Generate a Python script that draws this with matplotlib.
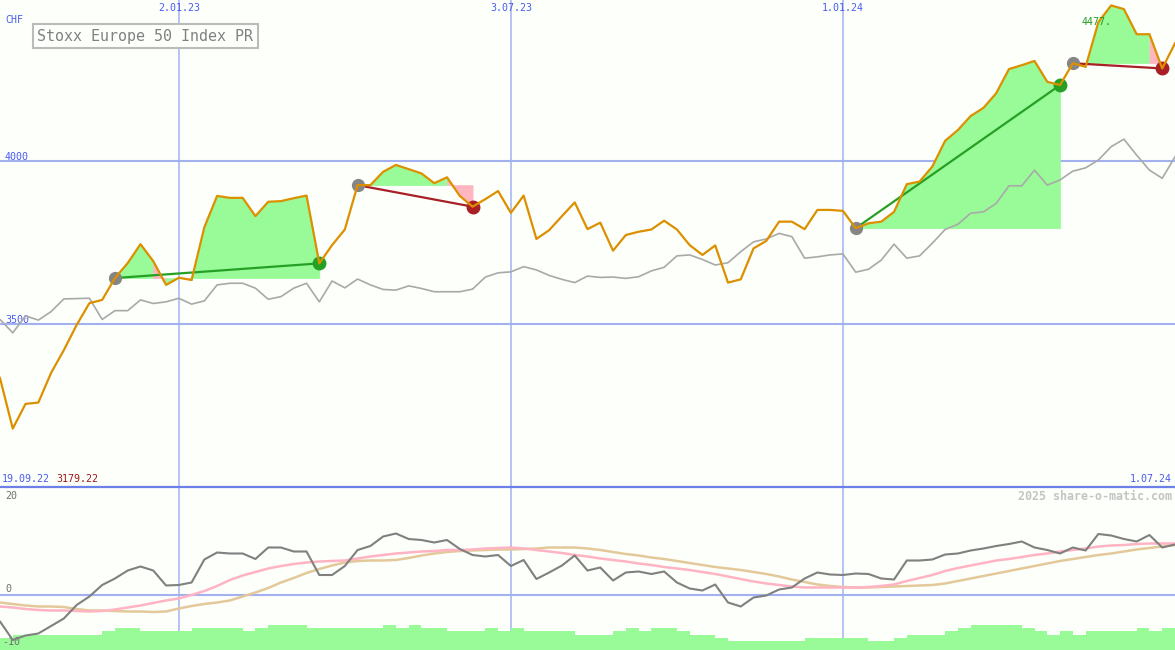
import numpy as np
import pandas as pd
import matplotlib
matplotlib.use('Agg')
import matplotlib.pyplot as plt

# weekly closes (Mondays)
dates = pd.date_range('2022-09-19', periods=94, freq='7D')

price = [3395, 3334, 3179.22, 3255, 3259, 3350, 3420, 3497, 3564, 3574,
         3641, 3687, 3745, 3693, 3620, 3642, 3635, 3797, 3893, 3887,
         3887, 3831, 3875, 3877, 3886, 3894, 3686, 3742, 3790, 3926,
         3926, 3967, 3988, 3975, 3962, 3932, 3950, 3893, 3860, 3883,
         3908, 3841, 3894, 3761, 3788, 3831, 3873, 3791, 3811, 3725,
         3773, 3783, 3790, 3817, 3790, 3742, 3712, 3741, 3627, 3637,
         3732, 3755, 3814, 3814, 3791, 3850, 3850, 3847, 3794, 3809,
         3814, 3844, 3929, 3937, 3983, 4062, 4095, 4138, 4163, 4208,
         4282, 4294, 4307, 4243, 4233, 4300, 4289, 4426, 4477.36, 4466,
         4389, 4389, 4284, 4361]

bench = [3528, 3514, 3473, 3525, 3512, 3538, 3577, 3578, 3579, 3514,
         3541, 3541, 3574, 3563, 3568, 3579, 3561, 3571, 3620, 3625,
         3625, 3610, 3576, 3584, 3610, 3625, 3568, 3632, 3611, 3638,
         3620, 3606, 3604, 3617, 3609, 3599, 3599, 3599, 3607, 3644,
         3657, 3660, 3676, 3666, 3649, 3637, 3627, 3647, 3643, 3644,
         3640, 3645, 3663, 3674, 3709, 3712, 3698, 3681, 3688, 3722,
         3752, 3761, 3778, 3768, 3702, 3706, 3712, 3715, 3659, 3668,
         3696, 3745, 3702, 3709, 3748, 3790, 3806, 3840, 3844, 3870,
         3924, 3924, 3972, 3926, 3942, 3969, 3979, 4003, 4044, 4067,
         4018, 3972, 3947, 4013]

mom = [-3.5, -5.3, -9.0, -8.1, -7.7, -6.2, -4.7, -2.0, -0.3, 2.0,
       3.3, 4.9, 5.7, 4.9, 1.9, 2.0, 2.5, 7.1, 8.5, 8.3,
       8.3, 7.2, 9.5, 9.5, 8.7, 8.7, 4.0, 4.0, 5.8, 9.0,
       9.8, 11.7, 12.3, 11.2, 11.0, 10.5, 11.0, 9.2, 8.0, 7.7,
       8.0, 5.8, 7.0, 3.2, 4.5, 5.9, 7.9, 4.9, 5.5, 2.9,
       4.5, 4.7, 4.2, 4.7, 2.5, 1.3, 0.9, 2.1, -1.5, -2.3,
       -0.5, -0.1, 1.1, 1.5, 3.3, 4.5, 4.1, 4.0, 4.3, 4.2,
       3.3, 3.1, 6.9, 6.9, 7.1, 8.1, 8.3, 8.9, 9.3, 9.8,
       10.2, 10.7, 9.5, 9.0, 8.3, 9.5, 8.9, 12.2, 11.9, 11.2,
       10.7, 12.0, 9.5, 10.1]

ma_fast = [-2.1, -2.3, -2.5, -2.8, -3.0, -3.1, -3.1, -3.2, -3.3, -3.2,
           -2.9, -2.5, -2.1, -1.6, -1.1, -0.7, 0.0, 0.8, 1.8, 3.0,
           3.9, 4.6, 5.3, 5.8, 6.2, 6.5, 6.7, 6.8, 6.9, 7.3,
           7.7, 8.0, 8.3, 8.5, 8.7, 8.8, 9.0, 9.0, 9.1, 9.3,
           9.4, 9.5, 9.3, 9.0, 8.7, 8.4, 8.0, 7.7, 7.3, 7.0,
           6.7, 6.3, 6.0, 5.6, 5.3, 5.0, 4.6, 4.2, 3.7, 3.2,
           2.7, 2.3, 2.0, 1.7, 1.5, 1.5, 1.5, 1.5, 1.5, 1.6,
           1.8, 2.1, 2.8, 3.4, 4.0, 4.8, 5.4, 5.9, 6.4, 6.9,
           7.2, 7.6, 8.0, 8.3, 8.7, 9.0, 9.3, 9.7, 9.9, 10.0,
           10.2, 10.3, 10.3, 10.3]

ma_slow = [-1.3, -1.5, -1.8, -2.1, -2.3, -2.3, -2.4, -2.8, -3.1, -3.1,
           -3.2, -3.3, -3.3, -3.4, -3.3, -2.7, -2.2, -1.8, -1.5, -1.1,
           -0.3, 0.5, 1.4, 2.5, 3.4, 4.4, 5.2, 5.9, 6.5, 6.8,
           6.9, 6.9, 7.0, 7.4, 7.9, 8.3, 8.6, 8.8, 8.9, 9.0,
           9.1, 9.1, 9.2, 9.3, 9.5, 9.5, 9.5, 9.3, 9.0, 8.6,
           8.2, 7.9, 7.5, 7.2, 6.8, 6.4, 6.0, 5.6, 5.3, 5.0,
           4.6, 4.2, 3.7, 3.1, 2.6, 2.1, 1.8, 1.6, 1.5, 1.5,
           1.6, 1.7, 1.8, 1.9, 2.0, 2.3, 2.8, 3.3, 3.8, 4.3,
           4.8, 5.3, 5.8, 6.3, 6.8, 7.2, 7.6, 8.0, 8.3, 8.7,
           9.1, 9.4, 9.7, 10.0]

hist = [-8.55, -8.55, -8.0, -8.0, -8.0, -8.0, -8.0, -8.0, -8.0, -7.2,
        -6.55, -6.55, -7.2, -7.2, -7.2, -7.2, -6.55, -6.55, -6.55, -6.55,
        -7.2, -6.55, -6.0, -6.0, -6.0, -6.55, -6.55, -6.55, -6.55, -6.55,
        -6.55, -6.0, -6.55, -6.0, -6.55, -6.55, -7.2, -7.2, -7.2, -6.55,
        -7.2, -6.55, -7.2, -7.2, -7.2, -7.2, -8.0, -8.0, -8.0, -7.2,
        -6.55, -7.2, -6.55, -6.55, -7.2, -8.0, -8.0, -8.55, -9.2, -9.2,
        -9.2, -9.2, -9.2, -9.2, -8.55, -8.55, -8.55, -8.55, -8.55, -9.2,
        -9.2, -8.55, -8.0, -8.0, -8.0, -7.2, -6.55, -6.0, -6.0, -6.0,
        -6.0, -6.55, -7.2, -8.0, -7.2, -8.0, -7.2, -7.2, -7.2, -7.2,
        -6.55, -7.2, -6.55, -6.55]

trade_in = [10, 29, 68, 85]
trade_out = [26, 38, 84, 92]

grid_dates = pd.to_datetime(['2023-01-02', '2023-07-03', '2024-01-01'])
price_ticks = [3500, 4000]

bg = '#fcfffa'
grid_c = '#a3b1f0'
blue_txt = '#4a5cf0'
green_fill = '#98fb98'
pink_fill = '#ffb6c1'
green_line = '#25a025'
red_line = '#a82025'

W, H = 1175, 650
fig = plt.figure(figsize=(W / 100, H / 100), dpi=100, facecolor=bg)
ax = fig.add_axes([0, 163 / H, 1, 487 / H])
ax2 = fig.add_axes([0, 0, 1, 163 / H], sharex=ax)

x0, x1 = pd.Timestamp('2022-09-26'), pd.Timestamp('2024-07-01')
for a in (ax, ax2):
    a.set_facecolor(bg)
    a.set_xlim(x0, x1)
    a.set_xticks([])
    a.set_yticks([])
    for s in a.spines.values():
        s.set_visible(False)
ax.set_ylim(3000, 4494)
ax2.set_ylim(-11, 21.6)
ax2.spines['top'].set_visible(True)
ax2.spines['top'].set_color('#6d80e8')
ax2.spines['top'].set_linewidth(1.6)

mono = 'DejaVu Sans Mono'

# grid
for d in grid_dates:
    ax.axvline(d, color=grid_c, lw=1.1, zorder=1)
    ax2.axvline(d, color=grid_c, lw=1.1, zorder=1)
    ax.text(d, 1 - 8 / 487, f"{d.day}.{d:%m.%y}", transform=ax.get_xaxis_transform(),
            ha='center', va='center', fontsize=7.2, color=blue_txt, family=mono)
for t in price_ticks:
    ax.axhline(t, color=grid_c, lw=1.5, zorder=1)
    ax.text(5 / W, t + 4, str(t), transform=ax.get_yaxis_transform(),
            ha='left', va='baseline', fontsize=7.2, color=blue_txt, family=mono)
ax2.axhline(0, color=grid_c, lw=1.5, zorder=1)
for t, yy in [(20, 19.8), (0, 1.2), (-10, -9.4)]:
    ax2.text(5 / W if t >= 0 else 2 / W, yy, str(t), transform=ax2.get_yaxis_transform(),
             ha='left', va='center', fontsize=7.2, color='#707070', family=mono)

# trades: fill between price and entry level, coloured by segment end
p = np.array(price)
for i0, i1 in zip(trade_in, trade_out):
    lvl = p[i0]
    for j in range(i0, i1):
        c = green_fill if p[j + 1] >= lvl else pink_fill
        ax.fill_between(dates[j:j + 2], p[j:j + 2], lvl, color=c, lw=0.5, ec=c, zorder=2)
    c = green_line if p[i1] >= p[i0] else red_line
    ax.plot([dates[i0], dates[i1]], [p[i0], p[i1]], color=c, lw=1.6, zorder=4)
    ax.plot(dates[i0], p[i0], 'o', color='#858585', ms=8.5, zorder=4.5)
    ax.plot(dates[i1], p[i1], 'o', color=c, ms=9, zorder=4.5)

ax.plot(dates, bench, color='#a9a9a9', lw=1.2, zorder=3)
ax.plot(dates, price, color='#dc9000', lw=1.6, zorder=5)

imax = int(np.argmax(p))
ax.annotate(f"{p[imax]:.0f}.", xy=(dates[imax], p[imax]), xytext=(-30, -17),
            textcoords='offset pixels', ha='left', va='center', fontsize=7.2,
            color='#229922', family=mono, zorder=6)

# lower panel
ax2.fill_between(dates, hist, -11, step='post', color=green_fill, lw=0, zorder=2)
ax2.plot(dates, ma_slow, color='#e3c99a', lw=1.8, zorder=3)
ax2.plot(dates, ma_fast, color='#ffb3c3', lw=1.8, zorder=3.2)
ax2.plot(dates, mom, color='#808080', lw=1.5, zorder=4)

# texts
fig.text(5 / W, 1 - 20 / H, 'CHF', fontsize=7.2, color=blue_txt, family=mono, va='center')
fig.text(37 / W, 1 - 36 / H, 'Stoxx Europe 50 Index PR', fontsize=10.8, color='#808080',
         family=mono, va='center', ha='left',
         bbox=dict(boxstyle='square,pad=0.3', fc=bg, ec='#bbbbbb', lw=1.5))
d0 = dates[0]
fig.text(2 / W, 1 - 479 / H, f"{d0.day}.{d0:%m.%y}", fontsize=7.2, color=blue_txt,
         family=mono, va='center')
fig.text(56 / W, 1 - 479 / H, f"{p.min():.2f}", fontsize=7.2, color='#a01818',
         family=mono, va='center')
d1 = dates[-1]
fig.text(1172 / W, 1 - 479 / H, f"{d1.day}.{d1:%m.%y}", fontsize=7.2, color=blue_txt,
         family=mono, va='center', ha='right')
fig.text(1172 / W, 1 - 496 / H, '2025 share-o-matic.com', fontsize=8.4, color='#c4c4c4',
         family=mono, va='center', ha='right', weight='bold')

fig.savefig('out.png', dpi=100, facecolor=bg)
